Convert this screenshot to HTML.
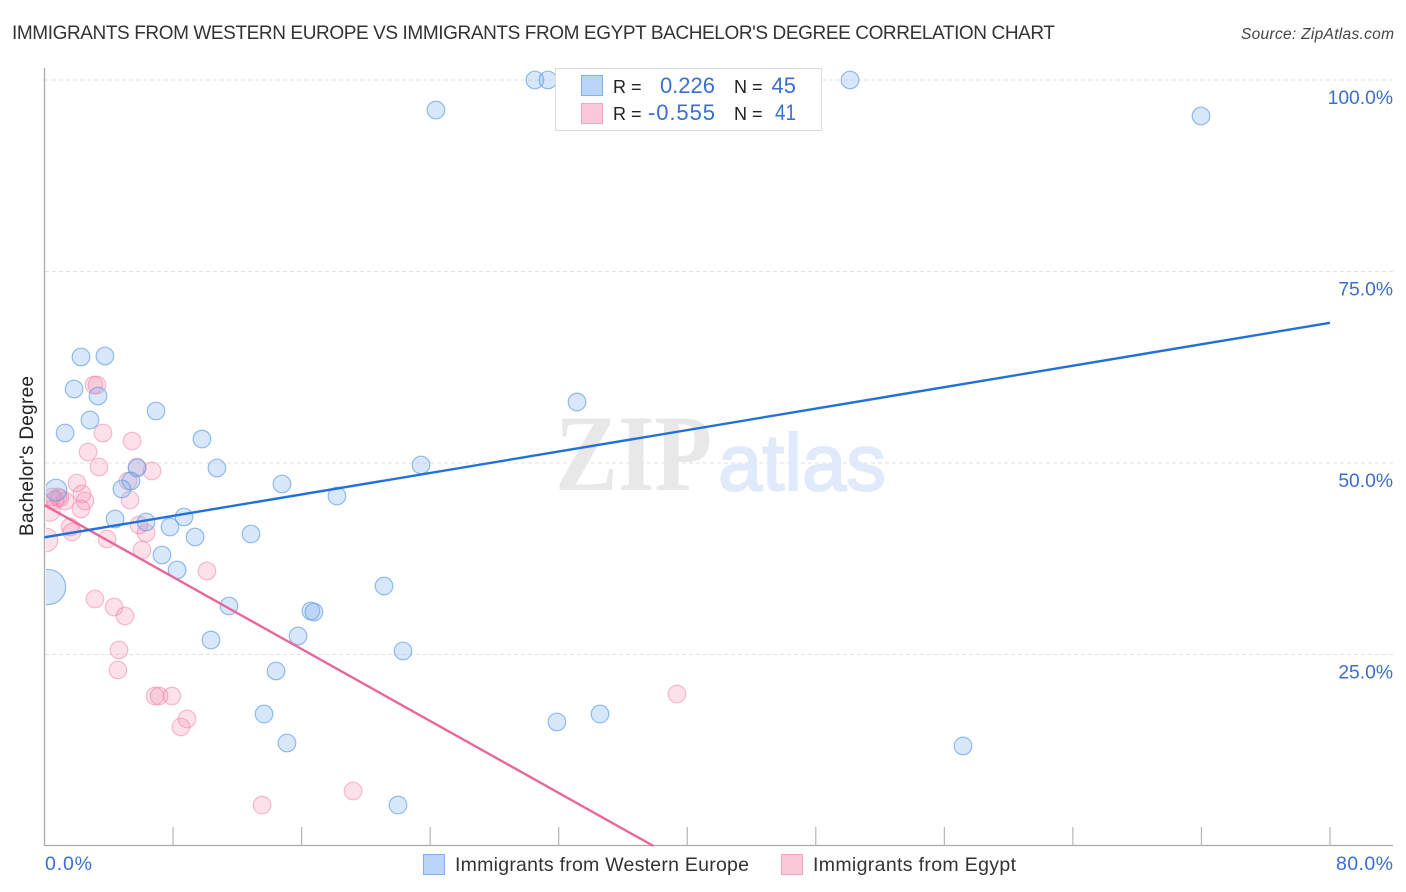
<!DOCTYPE html>
<html lang="en">
<head>
<meta charset="utf-8">
<title>Immigrants from Western Europe vs Immigrants from Egypt Bachelor's Degree Correlation Chart</title>
<style>
html,body{margin:0;padding:0;background:#fff;width:1406px;height:892px;overflow:hidden}
svg{display:block;font-family:"Liberation Sans",sans-serif}
</style>
</head>
<body>
<svg id="chart" xmlns="http://www.w3.org/2000/svg" width="1406" height="892" viewBox="0 0 1406 892">
  <defs>
    <clipPath id="plot-clip"><rect x="46" y="60" width="1348" height="786"/></clipPath>
  </defs>
  <rect x="0" y="0" width="1406" height="892" fill="#fff"/>
  <text x="12" y="39" font-size="19" fill="#333" textLength="1043" lengthAdjust="spacing">IMMIGRANTS FROM WESTERN EUROPE VS IMMIGRANTS FROM EGYPT BACHELOR'S DEGREE CORRELATION CHART</text>
  <text x="1394" y="39" font-size="15.5" font-style="italic" fill="#444" text-anchor="end" textLength="153" lengthAdjust="spacing">Source: ZipAtlas.com</text>
  <g id="grid"></g>
  <g>
    <text x="555" y="490" font-family="'Liberation Serif',serif" font-weight="bold" font-size="109" fill="#e8e8e8" textLength="157" lengthAdjust="spacingAndGlyphs">ZIP</text>
    <text x="718" y="490" font-size="80" fill="#e0eafa" stroke="#e0eafa" stroke-width="2" textLength="168" lengthAdjust="spacingAndGlyphs">atlas</text>
  </g>
  <g id="axes"></g>
  <g id="points" clip-path="url(#plot-clip)"></g>
  <g id="trends"></g>
  <text transform="translate(33,456) rotate(-90)" font-size="19" fill="#222" text-anchor="middle" textLength="160" lengthAdjust="spacing">Bachelor's Degree</text>
  <g>
    <rect x="555.5" y="68.5" width="266" height="62" fill="#fff" stroke="#dcdcdc" stroke-width="1"/>
    <rect x="581.5" y="75.5" width="21" height="20" fill="#b9d5f8" stroke="#7eb0ec"/>
    <rect x="581.5" y="103.5" width="21" height="20" fill="#fcc9da" stroke="#f6a5bf"/>
    <text x="613" y="93" font-size="18" fill="#222">R =</text>
    <text x="715" y="93" font-size="22" fill="#3a6fd1" text-anchor="end">0.226</text>
    <text x="734" y="93" font-size="18" fill="#222">N =</text>
    <text x="796" y="93" font-size="22" fill="#3a6fd1" text-anchor="end">45</text>
    <text x="613" y="120" font-size="18" fill="#222">R =</text>
    <text x="715" y="120" font-size="22" fill="#3a6fd1" text-anchor="end" textLength="67" lengthAdjust="spacing">-0.555</text>
    <text x="734" y="120" font-size="18" fill="#222">N =</text>
    <text x="796" y="120" font-size="22" fill="#3a6fd1" text-anchor="end" textLength="21" lengthAdjust="spacingAndGlyphs">41</text>
  </g>
  <g>
    <rect x="423.5" y="854.5" width="21" height="20" fill="#b9d5f8" stroke="#7eb0ec"/>
    <text x="455" y="871" font-size="19.5" fill="#333" textLength="294" lengthAdjust="spacing">Immigrants from Western Europe</text>
    <rect x="781.5" y="854.5" width="21" height="20" fill="#fcc9da" stroke="#f6a5bf"/>
    <text x="813" y="871" font-size="19.5" fill="#333" textLength="203" lengthAdjust="spacing">Immigrants from Egypt</text>
  </g>
</svg>
<script>
const xTickValues = [0, 8, 16, 24, 32, 40, 48, 56, 64, 72, 80];
const yGridValues = [25, 50, 75, 100];
const yTickLabels = ["25.0%", "50.0%", "75.0%", "100.0%"];
const xEndLabels = ["0.0%", "80.0%"];

const blueX = [30.52,31.33,50.13,24.36,71.97,2.27,3.76,1.84,3.33,6.94,2.83,1.28,9.80,10.73,5.76,5.38,4.82,0.72,14.78,23.43,18.20,33.14,4.39,6.32,8.68,7.81,9.37,12.85,7.31,8.25,21.13,11.48,16.58,16.77,10.36,15.78,22.31,14.41,13.66,31.89,34.57,15.09,57.16,22.00,0.22];
const blueY = [100,100,100,96.08,95.30,63.84,63.97,59.66,58.75,56.79,55.61,53.92,53.13,49.35,49.35,47.65,46.61,46.48,47.26,49.74,45.69,57.96,42.69,42.30,42.95,41.65,40.34,40.73,37.99,36.03,33.94,31.33,30.68,30.55,26.89,27.42,25.46,22.85,17.23,16.19,17.23,13.45,13.06,5.35,33.81];
const blueWeight = [1,1,1,1,1,1,1,1,1,1,1,1,1,1,1,1,1,1.5,1,1,1,1,1,1,1,1,1,1,1,1,1,1,1,1,1,1,1,1,1,1,1,1,1,1,4];

const pinkX = [3.08,3.27,5.45,3.64,2.71,3.39,6.69,5.20,5.32,2.02,2.33,2.52,2.27,0.84,0.65,0.96,1.28,0.34,0.09,1.59,1.71,3.89,5.88,6.32,6.07,10.11,3.14,4.33,5.01,4.64,4.57,6.88,7.13,7.93,8.87,8.49,39.36,19.20,13.54,5.76,0.47];
const pinkY = [60.18,60.18,52.87,53.92,51.44,49.48,48.96,47.65,45.17,47.39,45.95,45.04,44.00,45.56,45.17,45.43,45.04,43.73,39.95,41.65,40.99,40.08,41.91,40.86,38.64,35.90,32.25,31.20,30.03,25.59,22.98,19.58,19.58,19.58,16.58,15.54,19.84,7.18,5.35,49.48,45.56];
const pinkWeight = [1,1,1,1,1,1,1,1,1,1,1,1,1,1,1,1,1,1.35,1.8,1,1,1,1,1,1,1,1,1,1,1,1,1,1,1,1,1,1,1,1,1,1];

const blueTrendX = [0, 80];
const blueTrendY = [40.3, 68.3];
const pinkTrendX = [0, 37.9];
const pinkTrendY = [44.5, 0];

const SVGNS = "http://www.w3.org/2000/svg";
const xScale = v => 44.5 + v * (1285.5 / 80);
const yScale = v => 846 - v * (766 / 100);
const rScale = w => 8.8 * Math.sqrt(w);

function make(tag, attrs, parent, txt) {
  const el = document.createElementNS(SVGNS, tag);
  for (const k in attrs) el.setAttribute(k, attrs[k]);
  if (txt !== undefined) el.textContent = txt;
  parent.appendChild(el);
  return el;
}

const gridG = document.getElementById("grid");
const axesG = document.getElementById("axes");
const pointsG = document.getElementById("points");
const trendsG = document.getElementById("trends");

yGridValues.forEach((v, i) => {
  const line = make("line", {x1: 45, x2: 1393, y1: yScale(v), y2: yScale(v), stroke: "#e2e2e2", "stroke-width": 1, "stroke-dasharray": "4 3"}, gridG);
  
  
  const label = make("text", {x: 1393, y: yScale(v) + 24, "font-size": 19.3, fill: "#3a6fd1", "text-anchor": "end"}, axesG, yTickLabels[i]);
  
  
});

const yAxis = make("line", {x1: 44.5, x2: 44.5, y1: 68, y2: 846, stroke: "#aaa", "stroke-width": 1.3}, axesG);


const xAxis = make("line", {x1: 44, x2: 1393, y1: 845.5, y2: 845.5, stroke: "#aaa", "stroke-width": 1.3}, axesG);



xTickValues.slice(1).forEach(v => {
  const tick = make("line", {x1: xScale(v), x2: xScale(v), y1: 827, y2: 846, stroke: "#b5b5b5", "stroke-width": 1.2}, axesG);
  
  
});

const xLabelStart = make("text", {x: 45, y: 870, "font-size": 19.5, fill: "#3a6fd1", textLength: 47, lengthAdjust: "spacing"}, axesG, xEndLabels[0]);


const xLabelEnd = make("text", {x: 1393, y: 870, "font-size": 19.5, fill: "#3a6fd1", "text-anchor": "end", textLength: 57, lengthAdjust: "spacing"}, axesG, xEndLabels[1]);



pinkX.forEach((x, i) => {
  const c = make("circle", {cx: xScale(x), cy: yScale(pinkY[i]), r: rScale(pinkWeight[i]), fill: "#f48fb1", "fill-opacity": 0.27, stroke: "#ee7fa5", "stroke-opacity": 0.5, "stroke-width": 1.2}, pointsG);
  
  
});
blueX.forEach((x, i) => {
  const c = make("circle", {cx: xScale(x), cy: yScale(blueY[i]), r: rScale(blueWeight[i]), fill: "#7fb0ee", "fill-opacity": 0.3, stroke: "#5b9be6", "stroke-opacity": 0.65, "stroke-width": 1.2}, pointsG);
  
  
});

const pinkLine = make("line", {x1: xScale(pinkTrendX[0]), y1: yScale(pinkTrendY[0]), x2: xScale(pinkTrendX[1]), y2: yScale(pinkTrendY[1]), stroke: "#e8689a", "stroke-width": 2.4}, trendsG);


const blueLine = make("line", {x1: xScale(blueTrendX[0]), y1: yScale(blueTrendY[0]), x2: xScale(blueTrendX[1]), y2: yScale(blueTrendY[1]), stroke: "#2271d9", "stroke-width": 2.4}, trendsG);


</script>
</body>
</html>
